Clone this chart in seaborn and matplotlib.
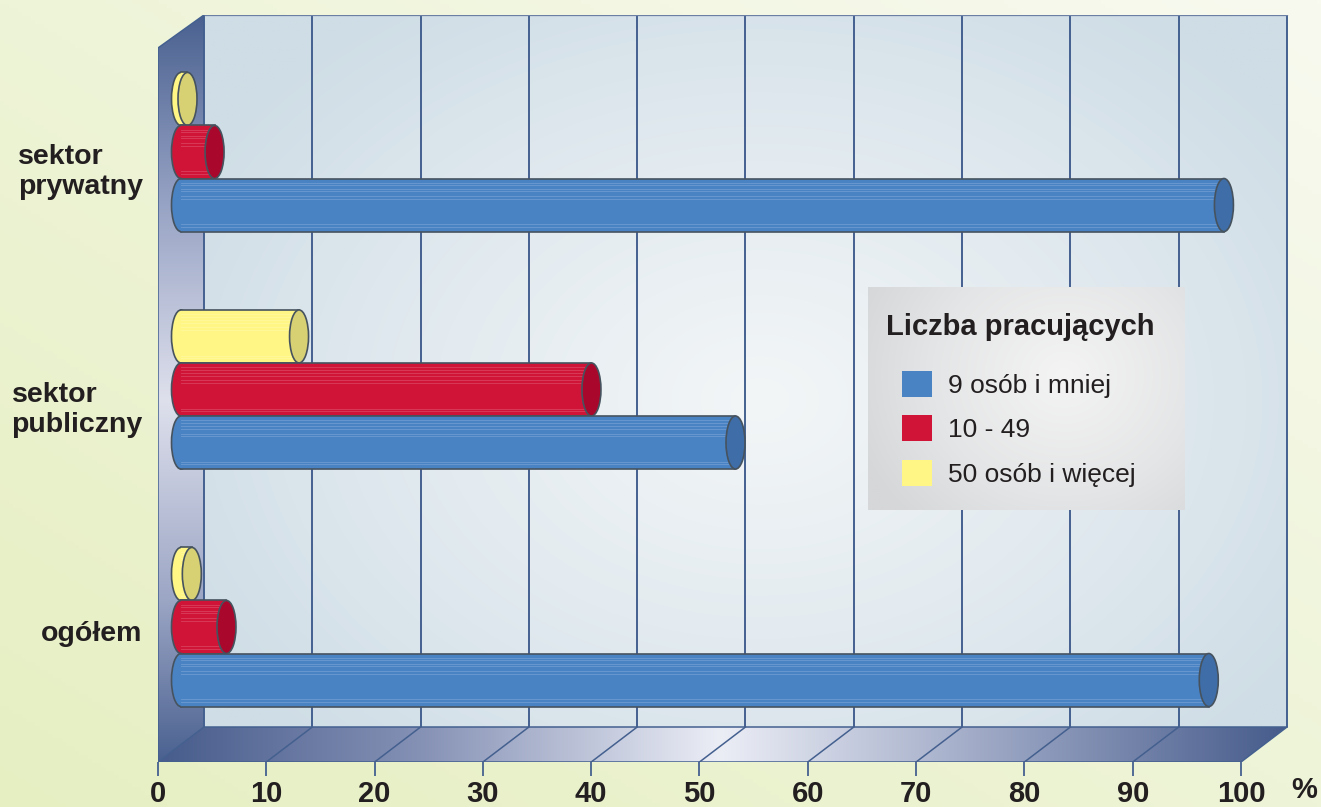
import numpy as np
import pandas as pd
import seaborn as sns
import matplotlib.pyplot as plt
from matplotlib.patches import Ellipse, Polygon, Patch
from matplotlib.colors import to_rgb
from matplotlib.transforms import ScaledTranslation

# dane
sektory = ["sektor\nprywatny", "sektor\npubliczny", "ogółem"]
grupy = ["9 osób i mniej", "10 - 49", "50 osób i więcej"]
do_9 = [96.3, 51.2, 94.9]
od_10_do_49 = [3.1, 37.9, 4.2]
od_50 = [0.6, 10.9, 1.0]
skala = list(range(0, 101, 10))

kolory = ["#4A83C4", "#D01437", "#FFF686"]
kolory_dna = ["#3E6DA7", "#A9072B", "#D7D173"]
OBRYS = "#46535F"
SIATKA = "#44608F"
TEKST = "#231F20"

plt.rcParams['font.family'] = ['Liberation Sans', 'DejaVu Sans']

# geometria w pikselach
W, H = 1321, 807
PX = 10.83
X0 = 181
GY = 152
GSTEP = 237.5


def dx(px):
    return (px - X0) / PX


def dy(py):
    return (py - GY) / GSTEP


def gradient(stops, t):
    pos = [p for p, c in stops]
    cols = np.array([to_rgb(c) for p, c in stops])
    return np.stack([np.interp(t, pos, cols[:, k]) for k in range(3)], axis=-1)


HX = 23 / PX
y_top, y_fb, y_ff, y_wf = dy(15), dy(727), dy(762), dy(48)

fig = plt.figure(figsize=(W / 100, H / 100), dpi=100)

# tlo
bg = fig.add_axes([0, 0, 1, 1], zorder=-10)
gx, gy = np.meshgrid(np.linspace(0, 1, 300), np.linspace(0, 1, 200))
bg.imshow(gradient([(0, "#E6EFC2"), (0.5, "#EEF4D7"), (1, "#F8FAF0")], 0.5 * gx + 0.5 * gy),
          extent=(0, 1, 0, 1), origin='lower', aspect='auto')
bg.axis('off')

ax = fig.add_axes([158 / W, 1 - 762 / H, (1321 - 158) / W, (762 - 15) / H])
ax.patch.set_alpha(0)

df = pd.DataFrame({
    "sektor": sektory * 3,
    "grupa": np.repeat(grupy, 3),
    "udzial": do_9 + od_10_do_49 + od_50,
})
kolejnosc = grupy[::-1]
sns.barplot(data=df, x="udzial", y="sektor", hue="grupa", hue_order=kolejnosc,
            order=sektory, palette=dict(zip(grupy, kolory)), orient="h",
            width=0.67, saturation=1, legend=False, errorbar=None, ax=ax)

# tylna sciana
xs = np.linspace(HX, 100 + HX, 400)
ys = np.linspace(y_top, y_fb, 300)
XX, YY = np.meshgrid(xs, ys)
xp = X0 + XX * PX
yp = GY + YY * GSTEP
r = np.clip(np.sqrt(((xp - 760) / 650) ** 2 + ((yp - 400) / 480) ** 2), 0, 1)
ax.imshow(gradient([(0, "#F3F6F7"), (0.5, "#E3EBF0"), (1, "#CFDDE6")], r),
          extent=(HX, 100 + HX, y_top, y_fb), origin='lower', aspect='auto',
          zorder=0, interpolation='bilinear')

# lewa sciana
ys2 = np.linspace(y_top, y_ff, 300)
yp2 = GY + ys2 * GSTEP
img = gradient([(15, "#4A6190"), (200, "#96A2C4"), (400, "#DEE0EC"), (600, "#9CA6C5"), (762, "#4A6190")], yp2)
img = np.repeat(img[:, None, :], 10, axis=1)
lewa = Polygon([(-HX, y_wf), (HX, y_top), (HX, y_fb), (-HX, y_ff)], closed=True,
               facecolor='none', edgecolor='none')
ax.add_patch(lewa)
im = ax.imshow(img, extent=(-HX, HX, y_top, y_ff), origin='lower', aspect='auto', zorder=1)
im.set_clip_path(lewa)

# podloga
xs3 = np.linspace(-HX, 100 + HX, 400)
xp3 = X0 + xs3 * PX
img = gradient([(158, "#475C8C"), (420, "#8591B5"), (720, "#ECEEF6"), (1000, "#9AA5C3"), (1286, "#475C8C")], xp3)
img = np.repeat(img[None, :, :], 10, axis=0)
podloga = Polygon([(-HX, y_ff), (HX, y_fb), (100 + HX, y_fb), (100 - HX, y_ff)], closed=True,
                  facecolor='none', edgecolor='none')
ax.add_patch(podloga)
im = ax.imshow(img, extent=(-HX, 100 + HX, y_fb, y_ff), origin='lower', aspect='auto', zorder=1)
im.set_clip_path(podloga)

# linie siatki i krawedzie
ax.vlines([t + HX for t in skala], y_top, y_fb, color=SIATKA, lw=1.4, zorder=1.5)
ax.plot([HX, 100 + HX], [y_top, y_top], color="#6A7FA3", lw=0.9, zorder=1.5)
ax.plot([HX, 100 + HX], [y_fb, y_fb], color=SIATKA, lw=1.1, zorder=1.5)
for t in skala:
    ax.plot([t - HX, t + HX], [y_ff, y_fb], color=SIATKA, lw=1.1, zorder=1.5)
ax.plot([-HX, 100 - HX], [y_ff, y_ff], color=SIATKA, lw=1.1, zorder=1.5)
ax.plot([-HX, -HX, HX], [y_ff, y_wf, y_top], color=SIATKA, lw=1.1, zorder=1.5)

# walce
CAP = 19 / PX
for j, (grupa, cont) in enumerate(zip(kolejnosc, ax.containers)):
    i = grupy.index(grupa)
    z = 3 + 3 * j
    for bar in cont:
        x, y, w, h = bar.get_x(), bar.get_y(), bar.get_width(), bar.get_height()
        bar.set_edgecolor('none')
        bar.set_zorder(z + 1)
        ax.add_patch(Ellipse((x, y + h / 2), CAP, h, facecolor=kolory[i],
                             edgecolor=OBRYS, lw=1.2, zorder=z))
        for f in [0.08, 0.13, 0.19, 0.24, 0.33, 0.38, 0.86, 0.91]:
            ax.plot([x, x + w], [y + f * h, y + f * h], color="white", alpha=0.16,
                    lw=0.7, zorder=z + 1.2)
        ax.plot([x, x + w], [y, y], color=OBRYS, lw=1.2, zorder=z + 1.5)
        ax.plot([x, x + w], [y + h, y + h], color=OBRYS, lw=1.2, zorder=z + 1.5)
        ax.add_patch(Ellipse((x + w, y + h / 2), CAP, h, facecolor=kolory_dna[i],
                             edgecolor=OBRYS, lw=1.2, zorder=z + 2))

ax.set_xlim(dx(158), dx(1321))
ax.set_ylim(y_ff, y_top)
for s in ax.spines.values():
    s.set_visible(False)
ax.set_xlabel("")
ax.set_ylabel("")

ax.set_xticks([t - HX for t in skala])
ax.set_xticklabels([str(t) for t in skala], fontsize=21, fontweight='bold', color=TEKST)
ax.tick_params(axis='x', length=10, width=1.3, color=SIATKA, pad=3)
ax.text(dx(1304), dy(776), "%", ha='center', va='top', fontsize=21,
        fontweight='bold', color=TEKST, clip_on=False)

ax.set_yticks(range(len(sektory)))
ax.set_yticklabels(sektory, fontsize=20.5, fontweight='bold', color=TEKST, ma='left',
                   linespacing=1.2)
ax.tick_params(axis='y', length=0, pad=11)
for lab in ax.get_yticklabels():
    off = 15 if "\n" in lab.get_text() else 4
    lab.set_transform(lab.get_transform() + ScaledTranslation(0, -off / 100, fig.dpi_scale_trans))

# legenda
lax = fig.add_axes([868 / W, 1 - 510 / H, 316 / W, 223 / H], zorder=5)
lx, ly = np.meshgrid(np.linspace(0, 1, 200), np.linspace(0, 1, 150))
lr = np.clip(np.sqrt(((lx - 0.62) / 0.7) ** 2 + ((ly - 0.6) / 0.9) ** 2), 0, 1)
lax.imshow(gradient([(0, "#F4F4F4"), (0.6, "#E4E5E6"), (1, "#D6D7D9")], lr),
           extent=(0, 1, 0, 1), origin='lower', aspect='auto')
lax.set_xlim(0, 1)
lax.set_ylim(0, 1)
lax.axis('off')
lax.text(18 / 316, 1 - (327 - 287) / 223, "Liczba pracujących", fontsize=21,
         fontweight='bold', va='center', ha='left', color=TEKST)
uchwyty = [Patch(facecolor=c, edgecolor='none', label=g) for g, c in zip(grupy, kolory)]
fs = 19 * 100 / 72
lax.legend(handles=uchwyty, loc='upper left', bbox_to_anchor=(34 / 316, 1 - (371 - 287) / 223),
           frameon=False, borderpad=0, borderaxespad=0, fontsize=19,
           handlelength=30 / fs, handleheight=30 / fs, handletextpad=16 / fs,
           labelspacing=0.66, labelcolor=TEKST)

fig.savefig("out.png", dpi=100)
